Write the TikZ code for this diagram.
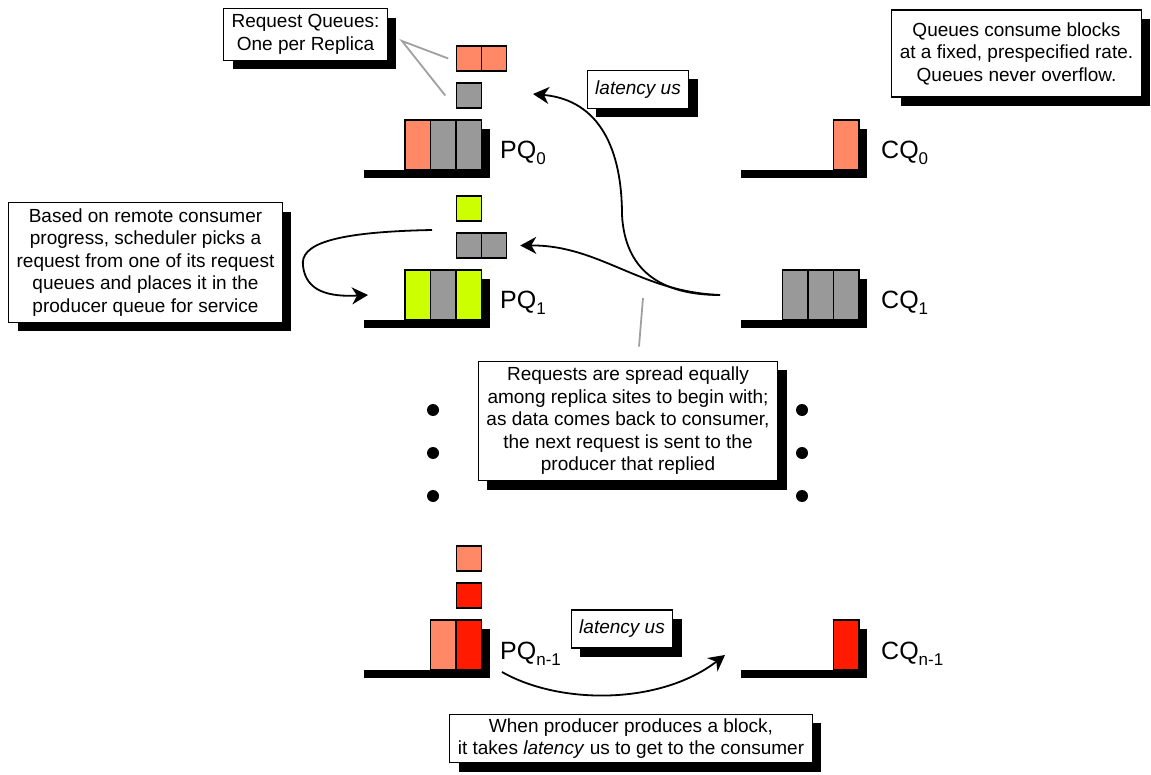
\documentclass[tikz,border=0pt]{standalone}
\usepackage{fontspec}
\setmainfont{Liberation Sans}
\usetikzlibrary{arrows.meta,positioning,shadows}
\definecolor{salmon}{HTML}{FF8866}
\definecolor{qgray}{HTML}{999999}
\definecolor{lime}{HTML}{CCFF00}
\definecolor{hotred}{HTML}{FF1A00}
\definecolor{leadgray}{HTML}{A0A0A0}
\newcommand{\qsub}[1]{\raisebox{-6pt}{\fontsize{17}{17}\selectfont #1}}

\begin{document}
\begin{tikzpicture}[
    x=1pt, y=-1pt,
    font=\fontsize{19}{22.5}\selectfont,
    >={Stealth[length=16pt, width=17pt, inset=5pt]},
    blk/.style={draw=black, line width=1.5pt, minimum width=25.5pt, minimum height=50pt,
                inner sep=0pt, outer sep=0pt},
    req/.style={blk, minimum width=25pt, minimum height=25pt},
    note/.style={draw=black, line width=1.2pt, fill=white, align=center,
                 inner xsep=8pt, inner ysep=6pt,
                 drop shadow={shadow xshift=9pt, shadow yshift=-9pt, fill=black, opacity=1}},
    qlabel/.style={font=\fontsize{25}{28}\selectfont, anchor=base west, inner sep=0pt},
    flow/.style={->, line width=1.8pt},
    lead/.style={leadgray, line width=1.8pt},
    dot/.style={circle, fill=black, minimum size=12pt, inner sep=0pt},
]
    \useasboundingbox (0,0) rectangle (1151,775);

    % ============================================================
    %  PRODUCER QUEUES (left column)
    % ============================================================
    % PQ_0
    \node[blk, fill=salmon] (p0a) at (417.75,145) {};
    \node[blk, fill=qgray, right=0pt of p0a] (p0b) {};
    \node[blk, fill=qgray, right=0pt of p0b] (p0c) {};
    \node[req, fill=qgray, above=12pt of p0c] (r0b) {};
    \node[req, fill=salmon, above=12pt of r0b] (r0a) {};
    \node[req, fill=salmon, right=0pt of r0a] (r0a2) {};
    % PQ_1
    \node[blk, fill=lime] (p1a) at (417.75,295) {};
    \node[blk, fill=qgray, right=0pt of p1a] (p1b) {};
    \node[blk, fill=lime, right=0pt of p1b] (p1c) {};
    \node[req, fill=qgray, above=12pt of p1c] (r1b) {};
    \node[req, fill=qgray, right=0pt of r1b] (r1b2) {};
    \node[req, fill=lime, above=12pt of r1b] (r1a) {};
    % PQ_{n-1}
    \node[blk, fill=salmon] (pna) at (443.25,645) {};
    \node[blk, fill=hotred, right=0pt of pna] (pnb) {};
    \node[req, fill=hotred, above=12pt of pnb] (rnb) {};
    \node[req, fill=salmon, above=12pt of rnb] (rna) {};

    % ============================================================
    %  CONSUMER QUEUES (right column)
    % ============================================================
    \node[blk, fill=salmon] (c0a) at (846.25,145) {};
    \node[blk, fill=qgray] (c1a) at (795.25,295) {};
    \node[blk, fill=qgray, right=0pt of c1a] (c1b) {};
    \node[blk, fill=qgray, right=0pt of c1b] (c1c) {};
    \node[blk, fill=hotred] (cna) at (846.25,645) {};

    % floor bars and side shadow of every queue
    \fill ([xshift=-118pt]p0c.south east) rectangle ([shift={(8pt,-8pt)}]p0c.south east);
    \fill ([yshift=-9pt]p0c.north east) rectangle ([shift={(8pt,-8pt)}]p0c.south east);
    \fill ([xshift=-118pt]p1c.south east) rectangle ([shift={(8pt,-8pt)}]p1c.south east);
    \fill ([yshift=-9pt]p1c.north east) rectangle ([shift={(8pt,-8pt)}]p1c.south east);
    \fill ([xshift=-118pt]pnb.south east) rectangle ([shift={(8pt,-8pt)}]pnb.south east);
    \fill ([yshift=-9pt]pnb.north east) rectangle ([shift={(8pt,-8pt)}]pnb.south east);
    \fill ([xshift=-118pt]c0a.south east) rectangle ([shift={(8pt,-8pt)}]c0a.south east);
    \fill ([yshift=-9pt]c0a.north east) rectangle ([shift={(8pt,-8pt)}]c0a.south east);
    \fill ([xshift=-118pt]c1c.south east) rectangle ([shift={(8pt,-8pt)}]c1c.south east);
    \fill ([yshift=-9pt]c1c.north east) rectangle ([shift={(8pt,-8pt)}]c1c.south east);
    \fill ([xshift=-118pt]cna.south east) rectangle ([shift={(8pt,-8pt)}]cna.south east);
    \fill ([yshift=-9pt]cna.north east) rectangle ([shift={(8pt,-8pt)}]cna.south east);

    % queue names
    \node[qlabel] (pq0) at (500,159) {PQ\qsub{0}};
    \node[qlabel] (pq1) at (500,309) {PQ\qsub{1}};
    \node[qlabel] (pqn) at (500,659) {PQ\qsub{n-1}};
    \node[qlabel] (cq0) at (881,159) {CQ\qsub{0}};
    \node[qlabel] (cq1) at (881,309) {CQ\qsub{1}};
    \node[qlabel] (cqn) at (881,659) {CQ\qsub{n-1}};

    % ellipsis dots
    \node[dot] (dl1) at (433,410) {};
    \node[dot] (dl2) at (433,453) {};
    \node[dot] (dl3) at (433,496) {};
    \node[dot] (dr1) at (802,410) {};
    \node[dot] (dr2) at (802,453) {};
    \node[dot] (dr3) at (802,496) {};

    % ============================================================
    %  NOTES
    % ============================================================
    \node[note] (rq) at (305.5,34.5) {Request Queues:\\One per Replica};
    \node[note, minimum height=87pt] (cons) at (1016.5,53.5)
        {Queues consume blocks\\at a fixed, prespecified rate.\\Queues never overflow.};
    \node[note, minimum height=38pt] (lat0) at (638,89.5) {\textit{latency us}};
    \node[note] (sched) at (145.5,262.5)
        {Based on remote consumer\\progress, scheduler picks a\\request from one of its request\\queues and places it in the\\producer queue for service};
    \node[note] (spread) at (628,421)
        {Requests are spread equally\\among replica sites to begin with;\\as data comes back to consumer,\\the next request is sent to the\\producer that replied};
    \node[note, minimum height=38pt] (latn) at (622,629) {\textit{latency us}};
    \node[note, inner ysep=4pt] (when) at (631,738.5)
        {When producer produces a block,\\it takes \textit{latency} us to get to the consumer};

    % ============================================================
    %  LEADERS AND FLOWS
    % ============================================================
    \coordinate (rqtip) at (402,41);
    \draw[lead] ([xshift=-8pt]r0a.west) -- (rqtip) -- ([xshift=-11pt]r0b.west);
    \coordinate (spreadtip) at (643,298);
    \draw[lead] (spreadtip) -- ([xshift=11pt,yshift=14pt]spread.north);

    % replies from CQ_1 go back up to the request queues
    \coordinate (fork) at (720,295);
    \coordinate (back0) at (533,94);
    \draw[flow] (fork) .. controls (660,295) and (625,270) .. (622,215)
                .. controls (622,150) and (600,100) .. (back0);
    \draw[flow] (fork) .. controls (640,292) and (600,245) .. ([xshift=14pt]r1b2.east);

    % scheduler moves a request into PQ_1
    \coordinate (pick) at (432,230);
    \draw[flow] (pick) .. controls (330,232) and (300,245) .. (303,266)
                .. controls (306,292) and (330,297) .. ([xshift=-37pt]p1a.west);

    % block travels from PQ_{n-1} to CQ_{n-1}
    \coordinate (send) at (502,672);
    \coordinate (arrive) at (725,655);
    \draw[flow] (send) .. controls (560,705) and (660,705) .. (arrive);

\end{tikzpicture}
\end{document}
